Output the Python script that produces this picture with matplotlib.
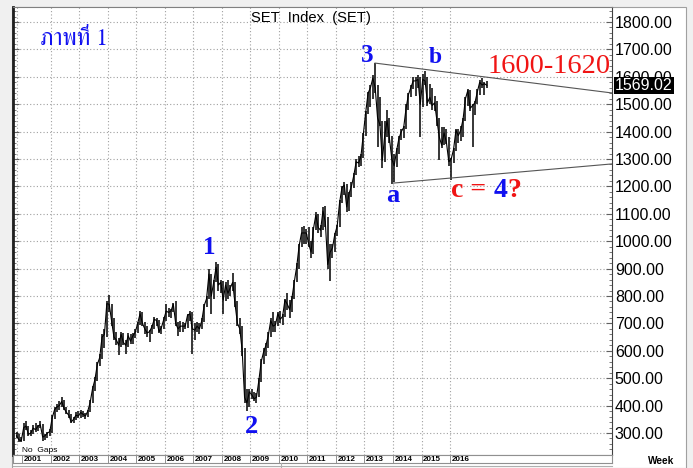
import numpy as np
import matplotlib
matplotlib.use("Agg")
import matplotlib.pyplot as plt
from matplotlib import font_manager, transforms
from matplotlib.ft2font import FT2Font
from matplotlib.lines import Line2D
from matplotlib.patches import Rectangle
from matplotlib.ticker import MultipleLocator, FuncFormatter

# --- DATA: SET index, monthly high / low / close ---
first_month = (2000, 10)
high = [305, 295, 285,
        335, 345, 325, 310, 330, 335, 330, 342, 332, 298, 305, 315,
        365, 395, 405, 415, 430, 420, 395, 385, 370, 360, 375, 380,
        385, 382, 372, 385, 420, 470, 505, 560, 590, 660, 680, 780,
        805, 770, 720, 670, 645, 670, 665, 640, 665, 660, 665, 680,
        705, 745, 740, 705, 690, 675, 695, 725, 720, 712, 690, 725,
        770, 755, 752, 775, 782, 705, 710, 705, 700, 735, 745, 740,
        700, 705, 700, 720, 770, 800, 900, 880, 860, 925, 915, 860,
        855, 850, 860, 840, 885, 850, 780, 720, 690, 610, 460, 460,
        460, 450, 445, 500, 570, 610, 630, 670, 720, 740, 710, 740,
        745, 735, 790, 810, 785, 800, 860, 920, 990, 1050, 1055, 1045,
        1050, 1000, 1050, 1108, 1100, 1060, 1125, 1130, 1090, 990, 990, 1030,
        1060, 1150, 1200, 1215, 1210, 1180, 1215, 1250, 1300, 1310, 1320, 1395,
        1475, 1545, 1570, 1605, 1652, 1570, 1525, 1440, 1440, 1480, 1450, 1385,
        1320, 1340, 1385, 1410, 1420, 1500, 1540, 1570, 1600, 1600, 1605, 1600,
        1612, 1620, 1600, 1575, 1560, 1530, 1510, 1450, 1415, 1415, 1410, 1380,
        1305, 1340, 1410, 1410, 1420, 1450, 1525, 1555, 1550, 1500, 1510, 1555,
        1590, 1596, 1582, 1585]
low = [280, 268, 266,
       270, 310, 290, 288, 298, 305, 308, 318, 272, 275, 282, 290,
       300, 350, 375, 385, 395, 385, 368, 355, 335, 335, 348, 355,
       355, 360, 350, 360, 378, 410, 455, 490, 545, 570, 610, 650,
       740, 690, 640, 620, 585, 615, 620, 590, 615, 625, 625, 645,
       665, 695, 690, 660, 650, 632, 660, 680, 690, 665, 660, 680,
       710, 725, 720, 740, 690, 655, 670, 670, 680, 685, 710, 590,
       640, 670, 660, 680, 705, 760, 790, 735, 790, 850, 820, 810,
       735, 780, 790, 800, 820, 760, 690, 660, 580, 410, 380, 395,
       425, 415, 410, 430, 485, 550, 580, 610, 650, 670, 670, 690,
       700, 695, 725, 750, 720, 740, 790, 850, 900, 980, 990, 990,
       980, 940, 955, 1040, 1030, 1015, 1040, 1050, 900, 855, 940, 960,
       1020, 1050, 1140, 1170, 1105, 1110, 1160, 1195, 1240, 1270, 1275, 1305,
       1385, 1465, 1490, 1520, 1540, 1345, 1420, 1266, 1290, 1380, 1360, 1210,
       1215, 1270, 1320, 1370, 1375, 1410, 1480, 1525, 1555, 1530, 1560, 1380,
       1490, 1570, 1495, 1500, 1480, 1475, 1420, 1295, 1340, 1350, 1355, 1275,
       1222, 1285, 1330, 1360, 1365, 1380, 1440, 1495, 1475, 1345, 1460, 1500,
       1535, 1560, 1535, 1560]
close = [290, 275, 272,
         320, 325, 295, 300, 318, 312, 325, 330, 285, 290, 300, 305,
         355, 385, 395, 400, 415, 390, 375, 365, 340, 350, 365, 362,
         375, 368, 362, 380, 412, 462, 495, 550, 575, 650, 660, 772,
         770, 710, 650, 640, 620, 660, 630, 620, 655, 635, 655, 668,
         700, 735, 700, 680, 665, 670, 688, 715, 710, 670, 685, 715,
         745, 740, 745, 770, 700, 680, 690, 690, 690, 730, 735, 680,
         675, 690, 680, 710, 765, 790, 880, 800, 850, 905, 840, 850,
         785, 840, 810, 830, 850, 770, 700, 680, 600, 430, 410, 450,
         440, 425, 430, 490, 560, 595, 620, 655, 710, 690, 695, 735,
         715, 725, 785, 770, 750, 795, 855, 910, 985, 1030, 1030, 1030,
         990, 960, 1045, 1095, 1050, 1040, 1110, 1070, 915, 960, 975, 1025,
         1055, 1140, 1195, 1205, 1125, 1175, 1200, 1240, 1290, 1285, 1310, 1390,
         1470, 1540, 1560, 1595, 1560, 1450, 1425, 1295, 1385, 1440, 1375, 1300,
         1275, 1330, 1375, 1400, 1415, 1485, 1535, 1560, 1585, 1585, 1590, 1500,
         1590, 1585, 1505, 1525, 1495, 1505, 1440, 1380, 1350, 1395, 1360, 1290,
         1300, 1335, 1405, 1385, 1405, 1445, 1520, 1550, 1485, 1495, 1505, 1545,
         1580, 1570, 1575, 1569.02]
last_value = 1569.02

# trend lines drawn on the chart (year, index)
upper_line_t = [2013.37, 2021.68]
upper_line_p = [1650, 1541]
lower_line_t = [2014.0, 2021.68]
lower_line_p = [1212, 1282]

year_labels = ["2001", "2002", "2003", "2004", "2005", "2006", "2007", "2008",
               "2009", "2010", "2011", "2012", "2013", "2014", "2015", "2016"]
price_ticks = [300, 400, 500, 600, 700, 800, 900, 1000, 1100, 1200,
               1300, 1400, 1500, 1600, 1700, 1800]

BLUE = "#1010f0"
RED = "#f01414"


def find_font(ch, prefer=("Serif", "Norasi", "Kinnari")):
    hits = []
    for f in font_manager.fontManager.ttflist:
        try:
            if ord(ch) in FT2Font(f.fname).get_charmap():
                hits.append(f.name)
        except Exception:
            pass
    for p in prefer:
        for h in hits:
            if p in h:
                return h
    return hits[0] if hits else "DejaVu Sans"


thai_font = find_font("\u0e20")

# --- FIGURE ---
W, H = 693, 468
fig = plt.figure(figsize=(W / 100, H / 100), dpi=100, facecolor="#f0f0f0")


def fx(x):
    return x / W


def fy(y):
    return 1 - y / H


fig.add_artist(Rectangle((fx(12), fy(468)), fx(686) - fx(12), fy(7) - fy(468),
                         transform=fig.transFigure, facecolor="white",
                         edgecolor="#a0a0a0", lw=0.8, zorder=0))

ax = fig.add_axes([fx(13), fy(455), (612 - 13) / W, (455 - 7) / H])
ax.set_facecolor("white")

t = (np.arange(len(close)) + first_month[0] * 12 + first_month[1] - 1 + 0.5) / 12
ax.vlines(t, low, high, color="black", lw=1.1)
ax.plot(t, close, color="black", lw=0.8)

ax.plot(upper_line_t, upper_line_p, color="#555555", lw=0.8)
ax.plot(lower_line_t, lower_line_p, color="#555555", lw=0.8)

ax.set_xlim(2000.667, 2021.684)
ax.set_ylim(219.7, 1854.7)

# axes / grid
ax.set_yticks(price_ticks)
ax.yaxis.set_minor_locator(MultipleLocator(20))
ax.yaxis.set_major_formatter(FuncFormatter(lambda v, _: f"{v:.2f}"))
ax.tick_params(axis="y", which="both", left=True, right=True, labelleft=False,
               labelright=True, direction="in", color="#606060")
ax.tick_params(axis="y", which="major", length=4, width=0.8, pad=2,
               labelsize=11.5)
ax.tick_params(axis="y", which="minor", length=2.5, width=0.6)
for lab in ax.get_yticklabels():
    lab.set_family("Liberation Sans")
ax.set_xticks([2000.81] + list(range(2002, 2017)))
ax.tick_params(axis="x", length=0, labelbottom=False)
ax.grid(True, color="#a0a0a0", linestyle=(0, (1, 2)), lw=0.8)
ax.set_axisbelow(True)
ax.spines["left"].set_linewidth(2)
ax.spines["left"].set_color("#202020")
ax.spines["right"].set_color("#404040")
ax.spines["top"].set_color("#808080")
ax.spines["bottom"].set_color("#808080")

# last value marker
trans = transforms.blended_transform_factory(ax.transAxes, ax.transData)
ax.text(1.0 + 3 / 599, last_value, f"{last_value:.2f}", transform=trans,
        ha="left", va="center", color="white", fontsize=11.5,
        family="Liberation Sans", clip_on=False, zorder=5,
        bbox=dict(boxstyle="square,pad=0.08", fc="black", ec="none"))

# wave labels
lab_kw = dict(family="Liberation Serif", fontweight="bold", ha="center",
              va="baseline", color=BLUE)
ax.text(2007.56, 953, "1", fontsize=18, **lab_kw)
ax.text(2009.04, 300, "2", fontsize=19, **lab_kw)
ax.text(2013.10, 1654, "3", fontsize=18, **lab_kw)
ax.text(2015.49, 1650, "b", fontsize=17, **lab_kw)
ax.text(2014.00, 1143, "a", fontsize=19, **lab_kw)
ax.text(2017.30, 1614, "1600-1620", fontsize=20.5, family="Liberation Serif",
        color=RED, ha="left", va="baseline")

c_kw = dict(family="Liberation Serif", fontweight="bold", fontsize=20)
t1 = ax.text(2016.04, 1161, "c = ", color=RED, ha="left", va="baseline", **c_kw)
t2 = ax.annotate("4", xy=(1, 0), xycoords=t1, ha="left", va="bottom",
                 color=BLUE, **c_kw)
ax.annotate("?", xy=(1, 0), xycoords=t2, ha="left", va="bottom", color=RED,
            **c_kw)

# date strip
dax = fig.add_axes([fx(13), fy(463), (612 - 13) / W, 8 / H])
dax.set_xlim(ax.get_xlim())
dax.set_ylim(0, 1)
dax.set_xticks([])
dax.set_yticks([])
for sp in dax.spines.values():
    sp.set_color("#909090")
    sp.set_linewidth(0.8)
for i, lab in enumerate(year_labels):
    yr = 2001 + i
    dax.axvline(yr, color="#909090", lw=0.7)
    dax.text(yr + 0.06, 0.45, lab, fontsize=5.8, fontweight="bold",
             family="Liberation Sans", ha="left", va="center")

fig.add_artist(Line2D([fx(13), fx(612)], [fy(465.5)] * 2, color="#b0b0b0",
                      lw=0.8))
fig.add_artist(Line2D([fx(281)] * 2, [fy(463), fy(468)], color="#b0b0b0",
                      lw=0.8))

# texts
fig.text(fx(251), fy(21.7), "SET  Index  (SET)", fontsize=10.6,
         family="Liberation Sans", ha="left", va="baseline")
fig.text(fx(40), fy(45), "ภาพที่ 1", fontsize=17, color=BLUE,
         family=[thai_font, "DejaVu Sans"], ha="left", va="baseline")
fig.text(fx(22), fy(452), "No  Gaps", fontsize=6, family="Liberation Sans",
         ha="left", va="baseline")
fig.text(fx(648), fy(463.5), "Week", fontsize=7.2, fontweight="bold",
         family="Liberation Sans", ha="left", va="baseline")

fig.savefig("out.png", dpi=100, facecolor=fig.get_facecolor())
